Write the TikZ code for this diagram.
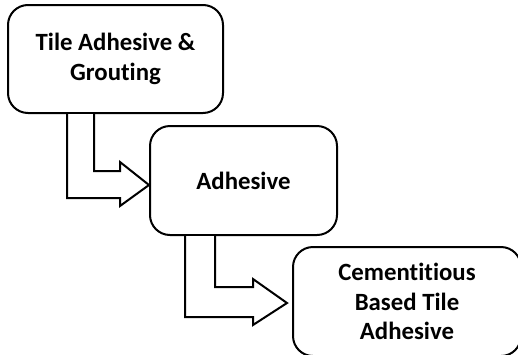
\documentclass[tikz,border=0pt]{standalone}
\usepackage{fontspec}
\setmainfont{Carlito}[Ligatures=NoCommon]
\usetikzlibrary{positioning,calc}

\begin{document}
\begin{tikzpicture}
  [x=0.5pt, y=-0.5pt, stage/.style = {draw, rounded corners=10pt,
    line width=1pt, align=center, inner sep=0pt,
    font=\fontsize{12.4}{14.8}\selectfont\bfseries},
    bent/.style={draw, line width=1pt, line join=miter, fill=white}]

  \useasboundingbox (0,0) rectangle (518,354);

  \node [stage, minimum width=107.5pt, minimum height=54pt] (Tile)
  at (115.5,59) {Tile Adhesive \&\\Grouting};
  \node [stage, minimum width=93.5pt, minimum height=54.5pt] (Glue)
  at (243.5,180.5) {Adhesive};
  \node [stage, minimum width=114pt, minimum height=54.5pt] (Cement)
  at (407,301.5) {Cementitious\\Based Tile\\Adhesive};

  % bent arrows
  \coordinate (tipA) at ($(Glue.west)+(0,4.5)$);
  \coordinate (tipB) at ($(Cement.west)+(-5,1.5)$);

  \draw [bent] ($(Tile.south west)+(60,0)$) |- ($(tipA)+(-29,13)$)
  -- ++(0,8) -- (tipA) -- ($(tipA)+(-29,-23)$) -- ++(0,9)
  -| ($(Tile.south west)+(87,0)$);
  \draw [bent] ($(Glue.south west)+(36,0)$) |- ($(tipB)+(-34,14)$)
  -- ++(0,8) -- (tipB) -- ($(tipB)+(-34,-24)$) -- ++(0,8)
  -| ($(Glue.south west)+(66,0)$);
\end{tikzpicture}
\end{document}
